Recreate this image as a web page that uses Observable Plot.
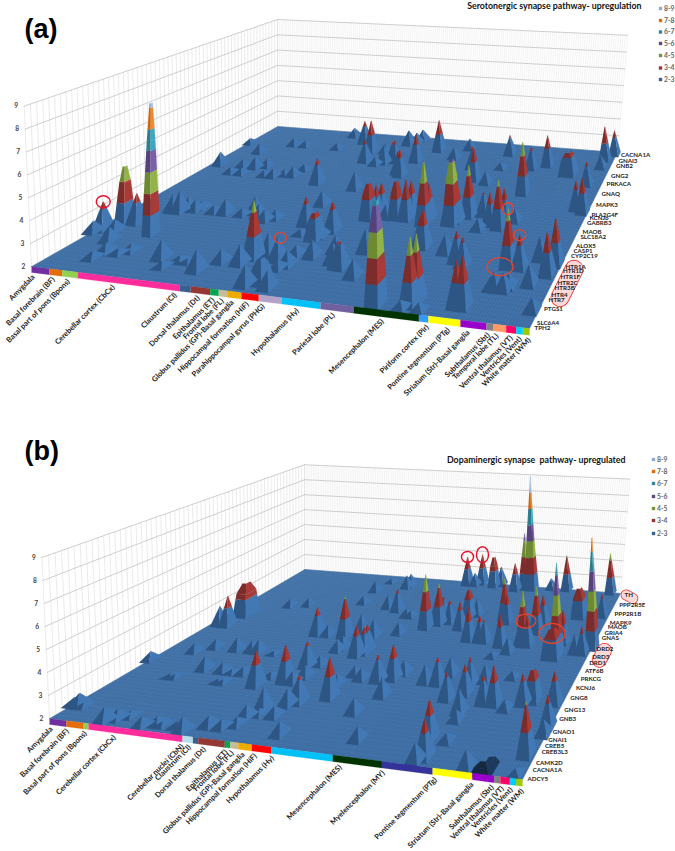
<!DOCTYPE html>
<html><head><meta charset="utf-8">
<style>html,body{margin:0;padding:0;background:#fff}svg{display:block}</style>
<script src="https://cdn.jsdelivr.net/npm/d3@7"></script>
<script src="https://cdn.jsdelivr.net/npm/@observablehq/plot@0.6"></script>
</head><body><div id="chart"></div>
<script>
// ---------- data: [column, gene row, log value] ----------
const totalCols = 171, totalRows = 60;
const legendLabels = ["8-9","7-8","6-7","5-6","4-5","3-4","2-3"];
const legendColors = ["#8eaadb","#e46c0a","#31859c","#604a7b","#77933c","#953735","#376092"];
const zTicks = [2,3,4,5,6,7,8,9];

const regionsA = ["Amygdala","Basal forebrain (BF)","Basal part of pons (Bpons)","Cerebellar cortex (CbCx)","Claustrum (Cl)","Dorsal thalamus (Dt)","Epithalamus (ET)","Frontal lobe (FL)","Globus pallidus (GP)-Basal ganglia","Hippocampal formation (HiF)","Parahippocampal gyrus (PHG)","Hypothalamus (Hy)","Parietal lobe (PL)","Mesencephalon (MES)","Piriform cortex (Pir)","Pontine tegmentum (PTg)","Striatum (Str)-Basal ganglia","Subthalamus (Sbt)","Temporal lobe (TL)","Ventral thalamus (VT)","Ventricles (Vent)","White matter (WM)"];
const regionColsA = [7,5,6,38,4,7,3,3,5,6,8,13,11,21,3,10,8,2,4,3,2,2];
const regionColorsA = ["#7030a0","#e46c0a","#92d050","#ff2d9b","#376092","#953735","#00a650","#c4bd97","#f0ab00","#ff0000","#b3a2c7","#00c0f8","#7060a0","#003300","#3399ff","#ffff00","#9900cc","#808080","#ff9966","#ff0066","#00ccff","#99cc00"];
const labelColsA = [0.8,8.6,14.5,31.6,54.5,62.8,68.1,71.3,74.9,80.1,85.6,97.3,109.3,125.4,139.7,146.3,152.5,158.6,161.3,165.6,168.3,171];
const genesA = ["TPH2","SLC6A4","PTGS1","HTR7","HTR4","HTR3B","HTR2C","HTR1F","HTR1D","HTR1A","CYP2C19","CASP1","ALOX5","SLC18A2","MAOB","GABRB3","KCNJ6","PLA2G4F","MAPK3","GNAQ","PRKACA","GNG2","GNB2","GNAI3","CACNA1A"];
const geneRowsA = [0,1.1,4.3,6.5,7.9,9.5,11,12.6,14,15.4,18.6,20.1,21.7,24.6,26,29.1,30.9,32.3,35.8,40.2,44.5,48.5,53.3,55.8,58.4];

const regionsB = ["Amygdala","Basal forebrain (BF)","Basal part of pons (Bpons)","Cerebellar cortex (CbCx)","Cerebellar nuclei (CbN)","Claustrum (Cl)","Dorsal thalamus (Dt)","Epithalamus (ET)","Frontal lobe (FL)","Globus pallidus (GP)-Basal ganglia","Hippocampal formation (HiF)","Hypothalamus (Hy)","Mesencephalon (MES)","Myelencephalon (MY)","Pontine tegmentum (PTg)","Striatum (Str)-Basal ganglia","Subthalamus (Sbt)","Ventral thalamus (VT)","Ventricles (Vent)","White matter (WM)"];
const regionColsB = [7,7,2,37,4,2,10,2,3,5,7,22,17,17,13,7,2,3,2,2];
const regionColorsB = ["#7030a0","#e46c0a","#92d050","#ff2d9b","#b7dde8","#376092","#953735","#00a650","#c4bd97","#f0ab00","#ff0000","#00c0f8","#003300","#333399","#ffff00","#9900cc","#808080","#ff0066","#00ccff","#99cc00"];
const labelColsB = [0.8,7.4,14.8,26.5,53,55.7,61.4,69.6,71.9,75.9,80.4,86.6,110.7,125.5,143,155,161.5,164.7,167.5,171];
const genesB = ["ADCY5","CACNA1A","CAMK2D","CREB3L3","CREB5","GNAI1","GNAO1","GNB3","GNG13","GNG8","KCNJ6","PRKCG","ATF6B","DRD1","DRD3","DRD2","GNAS","GRIA4","MAOB","MAPK9","PPP2R1B","PPP2R5E","TH"];
const geneRowsB = [0,2,3.3,5.7,7.1,8.5,10.6,13.7,16.3,19.4,22.6,25.4,28,30.7,32.8,35.7,39.6,41.6,44.1,45.8,49.8,54,59];

const peaksA = [[2,12,3.3],[0,11,2.5],[11,9,2.6],[7,12,2.5],[16,6,2.4],[15,4,2.3],[21,6,2.2],[24,7,2.3],[10,15,3.4],[38,6,2.8],[55,4,2.9],[42,4,2.2],[45,6,2.2],[48,6,2.1],[59,7,2.5],[66,7,2.8],[16,20,2.8],[19,20,3.0],[21,21,2.6],[24,21,2.5],[25,22,2.3],[32,21,2.3],[37,21,2.7],[44,21,2.3],[68,9,4.5],[48,22,2.8],[51,21,2.6],[55,20,2.5],[58,21,2.4],[72,10,3.0],[77,9,3.0],[82,8,2.6],[81,11,2.4],[76,2,2.8],[84,2,2.7],[80,7,2.3],[72,20,3.3],[74,17,2.2],[82,17,2.5],[87,11,2.7],[69,27,2.7],[84,19,3.3],[93,13,2.7],[99,9,3.1],[56,35,3.3],[43,40,2.3],[42,37,2.5],[38,37,2.3],[34,36,2.4],[30,36,2.3],[21,39,2.6],[25,40,2.4],[15,39,2.4],[14,36,2.3],[19,36,2.3],[4,39,2.7],[1,50,2.3],[12,46,2.5],[22,51,2.4],[28,51,2.3],[44,51,2.3],[14,60,2.0],
[44,58,2.5],[53,55,3.3],[61,51,3.8],[64,46,3.2],[73,46,3.0],[77,47,3.2],[86,41,3.4],[73,57,2.7],[77,57,2.6],[78,59,2.6],[91,54,3.8],[104,56,2.6],
[68,51,2.5],[76,47,3.1],[84,42,3.2],[86,48,3.5],[74,56,2.8],[70,45,2.4],[74,34,2.9],[94,25,3.5],[95,26,3.5],[106,25,3.9],[106,27,3.6],[98,25,2.6],[114,24,5.1],[114,26,3.7],[123,25,4.0],[125,26,3.9],[128,28,4.5],[118,42,3.7],[101,51,2.6],[113,47,3.2],[133,29,3.1],[138,26,3.5],[142,25,4.3],[142,28,3.5],[154,14,4.5],[158,14,3.4],[142,38,4.7],[138,49,3.2],[124,55,3.1],[144,51,3.7],[165,44,3.2],[166,34,3.4],[169,33,3.7],[167,52,2.7],[167,56,3.9],[170,59,3.4],[168,13,3.8],[169,16,4.0],[163,17,3.0],[164,10,2.8],[154,8,2.7],[157,8,2.7],[153,8,2.5],[158,9,2.5],[132,2,4.7],[133,3,4.7],[120,17,3.4],[121,17,3.7],[146,3,3.8],[148,3,4.0],[139,13,3.2],[100,9,3.1],[84,19,3.3],[107,7,2.7],[103,14,3.0],[96,10,2.8],[136,14,3.3],[130,16,2.8],[135,24,2.5],[124,41,2.6],[125,48,2.3],[146,28,2.6],[169,4,2.5],[130,1,2.3],[136,1,2.3]];
// [column, gene row, value, shoulder half-width in columns]
const domesA = [[5,15,4.7,1.1],[22,12,8.2,0.8],[81,16,3.2,1.5],[80,3,3.0,1.5],[155,48,3.2,2.4],[122,1,6.2,1.3],[92,24,3.7,1.4],[124,25,5.1,1.4],[102,25,3.8,1.2]];

const peaksB = [[2,4,2.5],[0,4,2.3],[4,4,2.1],[20,1,2.6],[19,2,2.4],[23,2,2.4],[26,3,2.2],[35,1,2.4],[39,2,2.3],[41,2,2.1],[51,1,2.6],[47,2,2.2],[0,18,2.4],[18,14,2.1],[20,14,2.1],[12,22,2.4],[27,17,2.6],[18,24,2.4],[35,17,2.4],[39,17,2.1],[28,24,2.6],[44,17,2.3],[35,24,2.5],[38,24,2.6],[56,17,2.2],[45,24,2.1],[22,42,2.4],[30,43,2.4],[15,47,2.0],[4,32,3.0],[8,32,3.6],[39,14,2.1],[41,14,2.1],[57,3,2.4],[62,3,2.3],[66,4,2.3],[66,6,2.5],[69,7,2.2],[75,7,2.4],[84,3,2.5],[65,21,3.2],[64,16,3.7],[55,14,3.6],[69,8,3.0],[52,32,3.4],[65,32,3.9],[57,32,2.5],[69,27,2.5],[67,16,2.5],[75,10,2.7],[77,11,2.9],[78,11,3.2],[69,18,2.5],[69,22,2.4],[87,13,3.8],[84,17,2.4],
[65,32,4.1],[79,26,3.5],[81,27,3.3],[81,28,3.3],[77,33,2.9],[70,34,3.0],[98,19,3.2],[103,20,3.6],[105,15,2.8],[105,22,2.6],[87,20,2.4],[91,19,2.5],[101,10,2.6],[111,4,2.5],[70,28,2.6],[68,45,2.7],[74,44,3.2],[52,52,2.6],[54,46,2.4],[54,57,2.2],[65,55,2.7],[66,56,2.7],[86,35,2.6],[95,38,4.9],[99,40,4.2],[97,41,3.5],[98,43,3.1],[103,41,3.2],[110,39,3.4],[112,45,2.9],[118,35,3.7],[123,35,3.3],[125,35,3.1],[81,42,2.4],[83,42,2.3],[93,59,3.7],[100,60,3.8],[97,59,2.7],[110,60,3.1],[128,43,3.5],[119,58,3.6],[126,59,9.0],[127,59,6.1],[123,59,5.4],[126,44,4.3],[142,35,4.8],[144,35,3.5],[141,35,3.2],[144,40,4.5],[144,44,3.5],[158,33,6.6],[144,60,4.1],[171,36,7.7],[166,60,4.4],[168,49,3.2],[158,37,3.7],[168,34,3.3],[165,34,2.9],[136,60,2.6],[133,34,3.6],[138,32,2.7],[133,30,2.2],[147,24,2.3],[157,17,3.3],[168,18,3.4],[170,12,3.3],[168,5,4.1],[170,10,2.6],[147,16,3.7],[143,16,3.2],[133,21,3.2],[134,18,3.3],[137,13,3.0],[129,16,3.2],[121,20,3.2],[116,20,2.8],[123,23,2.8],[152,15,2.4],[138,22,2.8],[134,6,3.6],[137,2,3.5],[135,1,2.7],[152,1,2.7],[140,6,2.3],[138,11,2.4],[168,1,2.2]];
const domesB = [[8,37,3.8,2.4],[109,44,3.5,1.2],[157,32,3.4,2.5],[158,48,3.6,2],[160,18,3.4,1.5],[107,59,3.8,1.2]];
const shadowDomesB = [[158,1,2.4,2.2]];

// ---------- view: perspective of each panel's box ----------
const viewA = {A:[31,266],B:[529,328],C:[617,152],D:[277,126],unit:22.9};
const viewB = {A:[49,718],B:[522,779],C:[620,593],D:[304,569],unit:23};
function makeProject(q){
  const {A,B,C,D,unit}=q;
  const dx1=B[0]-C[0],dx2=D[0]-C[0],sx=A[0]-B[0]+C[0]-D[0],dy1=B[1]-C[1],dy2=D[1]-C[1],sy=A[1]-B[1]+C[1]-D[1];
  const den=dx1*dy2-dx2*dy1,g=(sx*dy2-dx2*sy)/den,h=(dx1*sy-sx*dy1)/den;
  const a=B[0]-A[0]+g*B[0],b=D[0]-A[0]+h*D[0],d=B[1]-A[1]+g*B[1],e=D[1]-A[1]+h*D[1];
  return (col,row,z=2,lean=false)=>{
    const u=col/totalCols,v=row/totalRows,w=g*u+h*v+1;
    let X=(a*u+b*v+A[0])/w, Y=(d*u+e*v+A[1])/w-unit*(z-2)/w;
    if(lean) X+=(X-D[0])*0.03*(z-2)/7;
    return [X,Y];
  };
}
const bandFront=["#2e5685","#7c2c2a","#6d8a33","#55427a","#2c7d90","#d0650f","#86a7d0"];
const bandRight=["#4278b4","#a83a37","#94b347","#7a60a6","#3fa6bf","#ef8a2e","#a9c4e6"];

const polys=[];let pid=0;
function poly(layer,pts,fill){const id=pid++;for(const p of pts)polys.push({x:p[0],y:p[1],id,fill,layer});}

function addPeak(P,[c,r,Z,t],shadow){
  const dome=t!=null, b=dome?t+1.0:2.3, rowK=0.6, knee=0.72;
  const lerp=(p,q,f)=>p+(q-p)*f;
  const s=z=>{const f=(z-2)/(Z-2);if(!dome)return lerp(b,0.08,f);return f<knee?lerp(b,t,f/knee):lerp(t,t*0.4,(f-knee)/(1-knee));};
  const hs=[2];for(let k=3;k<Z;k++)hs.push(k);
  if(dome){hs.push(2+knee*(Z-2));}
  hs.push(Z);hs.sort((p,q)=>p-q);
  for(let i=0;i<hs.length-1;i++){
    const zl=hs[i],zh=hs[i+1],k=Math.min(6,Math.floor((zl+zh)/2)-2),sl=s(zl),sh=s(zh);
    const fF=shadow?"#14283f":bandFront[k],fR=shadow?"#1d3a5c":bandRight[k];
    poly("peak",[P(c-sl,r-sl*rowK,zl),P(c+sl,r-sl*rowK,zl),P(c+sh,r-sh*rowK,zh),P(c-sh,r-sh*rowK,zh)],fF);
    poly("peak",[P(c+sl,r-sl*rowK,zl),P(c+sl,r+sl*rowK,zl),P(c+sh,r+sh*rowK,zh),P(c+sh,r-sh*rowK,zh)],fR);
  }
}
const marks=[];
function panel(q,regions,regionCols,regionColors,labelCols,peaks,domes,shadow){
  const P=makeProject(q);
  const wall=[];let lid=0;
  const seg=(kind,a,b)=>{const id=lid++;wall.push({x:a[0],y:a[1],id,kind},{x:b[0],y:b[1],id,kind});};
  for(const r of d3.range(0,totalRows+1)) seg("fine",P(0,r,2,true),P(0,r,9,true));
  for(const c of d3.range(0,totalCols+1)) seg("finer",P(c,totalRows,2,true),P(c,totalRows,9,true));
  for(const z of zTicks){seg("major",P(0,0,z,true),P(0,totalRows,z,true));seg("major",P(0,totalRows,z,true),P(totalCols,totalRows,z,true));}
  for(const [kind,stroke,w] of [["finer","#dcdcdc",0.35],["fine","#d6d6d6",0.5],["major","#c9c9c9",0.9]])
    marks.push(Plot.line(wall.filter(d=>d.kind===kind),{x:"x",y:"y",z:"id",stroke,strokeWidth:w}));
  // floor
  marks.push(Plot.line([P(0,0),P(totalCols,0),P(totalCols,totalRows),P(0,totalRows)],{x:d=>d[0],y:d=>d[1],fill:"#3c6ca3",stroke:"#3c6ca3",strokeWidth:0.5}));
  const rowLines=[],colLines=[];let mid=0;
  const m=(arr,a,b)=>{const id=mid++;arr.push({x:a[0],y:a[1],id},{x:b[0],y:b[1],id});};
  for(const r of d3.range(0,totalRows+1)) m(rowLines,P(0,r),P(totalCols,r));
  for(const c of d3.range(0,totalCols+1)) m(colLines,P(c,0),P(c,totalRows));
  marks.push(Plot.line(rowLines,{x:"x",y:"y",z:"id",stroke:"#cfe0f2",strokeWidth:0.25,strokeOpacity:0.16}));
  marks.push(Plot.line(colLines,{x:"x",y:"y",z:"id",stroke:"#cfe0f2",strokeWidth:0.3,strokeOpacity:0.25}));
  // peaks, back to front
  const start=polys.length;
  const all=[...peaks.map(d=>[d,false]),...domes.map(d=>[d,false]),...(shadow||[]).map(d=>[d,true])];
  all.sort((p,q)=>P(p[0][0],p[0][1])[1]-P(q[0][0],q[0][1])[1]);
  for(const [d,sh] of all) addPeak(P,d,sh);
  const pk=polys.slice(start);
  marks.push(Plot.line(pk,{x:"x",y:"y",z:"id",fill:"fill",stroke:"fill",strokeWidth:0.2}));
  // region strip
  const strip=[];let cum=0;
  regionCols.forEach((n,i)=>{
    const a=cum,b=cum+n;cum=b;
    for(const p of [P(a,0,2),P(b,0,2),P(b,0,1.74),P(a,0,1.74)]) strip.push({x:p[0],y:p[1],id:i,fill:regionColors[i]});
  });
  marks.push(Plot.line(strip,{x:"x",y:"y",z:"id",fill:"fill",stroke:"fill",strokeWidth:0.2}));
  marks.push(Plot.text(regions.map((t,i)=>({t,p:P(labelCols[i],0,1.6)})),{x:d=>d.p[0],y:d=>d.p[1],text:"t",rotate:-45,textAnchor:"end",lineAnchor:"middle",fontSize:7.5,fontWeight:700,fontFamily:"Lato",fill:"#222"}));
  marks.push(Plot.text(zTicks.map(z=>({z,p:P(0,0,z,true)})),{x:d=>d.p[0],y:d=>d.p[1],dx:-8,text:d=>String(d.z),textAnchor:"middle",lineAnchor:"middle",fontSize:6.6,fontWeight:700,fontFamily:"Lato",fill:"#444"}));
  return P;
}
function geneLabels(P,genes,rows){
  marks.push(Plot.text(genes.map((t,i)=>({t,p:P(totalCols,rows[i])})),{x:d=>d.p[0],y:d=>d.p[1],dx:5,text:"t",textAnchor:"start",lineAnchor:"middle",fontSize:6.2,fontWeight:700,fontFamily:"Lato",fill:"#222"}));
}
function capsule(P,from,to,width,dx){
  const pts=[P(...from),P(...to)];
  marks.push(Plot.line(pts,{x:d=>d[0],y:d=>d[1],dx,stroke:"#ee3333",strokeWidth:width,strokeLinecap:"round"}));
  marks.push(Plot.line(pts,{x:d=>d[0],y:d=>d[1],dx,stroke:"#fbd9d9",strokeWidth:width-1.6,strokeLinecap:"round"}));
}
function ring(P,[c,r,z],rx,ry,color){
  const k=0.5523,ar=ry/rx;
  const sym={draw(ctx,size){const R=Math.sqrt(size/Math.PI),a=R,b=R*ar;
    ctx.moveTo(-a,0);ctx.bezierCurveTo(-a,-b*k,-a*k,-b,0,-b);ctx.bezierCurveTo(a*k,-b,a,-b*k,a,0);ctx.bezierCurveTo(a,b*k,a*k,b,0,b);ctx.bezierCurveTo(-a*k,b,-a,b*k,-a,0);ctx.closePath();}};
  marks.push(Plot.dot([P(c,r,z)],{x:d=>d[0],y:d=>d[1],r:rx,symbol:sym,fill:"none",stroke:color,strokeWidth:1.4}));
}
function legend(x,ys,size){
  marks.push(Plot.dot(legendLabels.map((t,i)=>({t,c:legendColors[i],y:ys[i]})),{x:()=>x,y:"y",symbol:"square",r:1.9,fill:"c",stroke:null}));
  marks.push(Plot.text(legendLabels.map((t,i)=>({t,y:ys[i]})),{x:()=>x+3.5,y:"y",text:"t",textAnchor:"start",lineAnchor:"middle",fontSize:size,fontFamily:"Lato",fontWeight:700,fill:"#666"}));
}
const PA=panel(viewA,regionsA,regionColsA,regionColorsA,labelColsA,peaksA,domesA);
const PB=panel(viewB,regionsB,regionColsB,regionColorsB,labelColsB,peaksB,domesB,shadowDomesB);

capsule(PA,[171,14.6],[171,7.2],19,15);
capsule(PB,[171,35],[171,31.5],15,14);
capsule(PB,[174,59.5],[178,58],11,0);
geneLabels(PA,genesA,geneRowsA);
geneLabels(PB,genesB,geneRowsB);

ring(PA,[2,12,3.3],7,6,"#e8102a");
ring(PA,[69,15,2],6,5.5,"#e8432a");
ring(PA,[154,14,4.5],5.5,6,"#e8432a");
ring(PA,[158,14,3.4],6,5.5,"#e8432a");
ring(PA,[152,13,2.1],13,9,"#e8432a");
ring(PB,[93,59,3.7],6,5.5,"#e8102a");
ring(PB,[100,60,3.8],6,8,"#e8102a");
ring(PB,[136,44,2],10,7,"#e8432a");
ring(PB,[151,40,2],13,10,"#e8432a");

legend(660,[8,20,31.5,43,55,67.5,79],6.8);
legend(653,[459,471,483,496,508,520,533],6.8);

const headings=[
 {t:"(a)",x:24,y:29,s:27},{t:"(b)",x:24,y:451,s:27}
];
marks.push(Plot.text(headings,{x:"x",y:"y",text:"t",fontSize:"s",textAnchor:"start",lineAnchor:"middle",fontWeight:700,fontFamily:"Liberation Sans",fill:"#000"}));
marks.push(Plot.text([{t:"Serotonergic synapse pathway- upregulation",x:641,y:6},{t:"Dopaminergic synapse  pathway- upregulated",x:625,y:460}],{x:"x",y:"y",text:"t",fontSize:8.8,textAnchor:"end",lineAnchor:"middle",fontWeight:700,fontFamily:"Lato",fill:"#111"}));

document.getElementById("chart").append(Plot.plot({
  width:675,height:851,margin:0,
  x:{domain:[0,675],range:[0,675],axis:null},
  y:{domain:[0,851],range:[0,851],axis:null},
  color:{type:"identity"},
  style:{background:"#fff"},
  marks
}));
</script></body></html>
